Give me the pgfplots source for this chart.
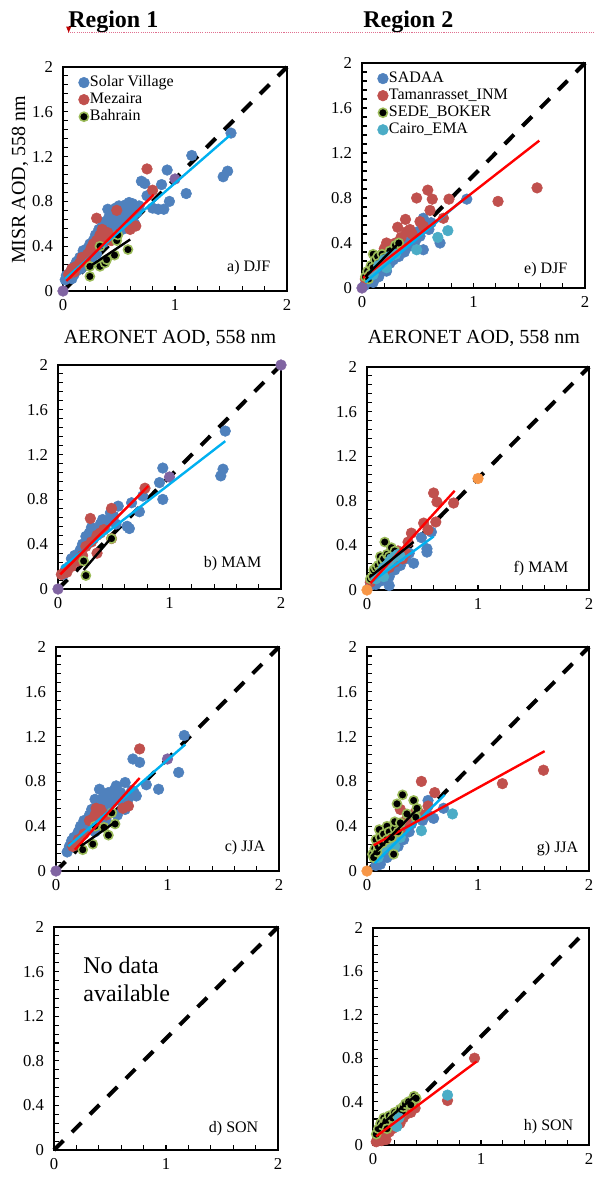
\documentclass[border=0pt]{standalone}
\usepackage{fontspec}
\setmainfont{Liberation Serif}
\usepackage{pgfplots}
\pgfplotsset{compat=1.18}
\definecolor{cBlue}{HTML}{4F81BD}
\definecolor{cRed}{HTML}{C0504D}
\definecolor{cGreen}{HTML}{9BBB59}
\definecolor{cAqua}{HTML}{4BACC6}
\definecolor{cPurple}{HTML}{8064A2}
\definecolor{cOrange}{HTML}{F79646}
\definecolor{lCyan}{HTML}{00B0F0}
\definecolor{lRed}{HTML}{FF0000}
\definecolor{pinkdot}{HTML}{E07090}
\definecolor{tri}{HTML}{C00000}
\tikzset{panlab/.style={anchor=base east, font=\fontsize{12}{12}\selectfont}}
\pgfplotsset{
  panel/.style={
    scale only axis, anchor=north west, clip=false, clip mode=individual,
    xmin=0,xmax=2,ymin=0,ymax=2,
    xtick={0,1,2}, ytick={0,0.4,0.8,1.2,1.6,2},
    minor x tick num=4, minor y tick num=4,
    tick pos=left, tick align=inside,
    major tick length=3.5pt, minor tick length=3.5pt,
    every tick/.style={black, line width=0.8pt},
    axis line style={line width=1.2pt},
    ticklabel style={font=\fontsize{12.5}{12.5}\selectfont},
    /pgf/number format/assume math mode=true,
    xticklabel style={yshift=-3pt},
    yticklabel style={xshift=-4pt},
    legend cell align=left,
    legend image code/.code={\draw plot coordinates {(0.14cm,0cm)};},
    legend style={at={(axis description cs:0,1)}, anchor=north west,
      xshift=11.5pt, yshift=-5.5pt, draw=none, fill=none, inner sep=0pt,
      row sep=0.8pt, font=\fontsize{12}{12}\selectfont,
      nodes={inner sep=0.5pt, text height=8.5pt, text depth=2.5pt}},
  },
  sv/.style={only marks, color=cBlue, mark=*, mark size=4pt, mark options={draw=cBlue, fill=cBlue}},
  mz/.style={only marks, color=cRed, mark=*, mark size=4pt, mark options={draw=cRed, fill=cRed}},
  bh/.style={only marks, color=black, mark=*, mark size=3.4pt, mark options={draw=cGreen, fill=black, line width=1.2pt}},
  ca/.style={only marks, color=cAqua, mark=*, mark size=4pt, mark options={draw=cAqua, fill=cAqua}},
  pu/.style={only marks, color=cPurple, mark=*, mark size=4pt, mark options={draw=cPurple, fill=cPurple}, forget plot},
  og/.style={only marks, color=cOrange, mark=*, mark size=4pt, mark options={draw=cOrange, fill=cOrange}, forget plot},
  oneone/.style={black, line width=3pt, dash pattern=on 10pt off 9pt, forget plot, no marks},
  fit/.style={line width=1.8pt, forget plot, no marks},
}
\begin{document}
\begin{tikzpicture}
\path[use as bounding box] (0,0) rectangle (446.25pt,-883.5pt);
% header
\node[anchor=base west, font=\fontsize{18}{18}\selectfont\bfseries, inner sep=0pt] at (51pt,-20.25pt) {Region 1};
\node[anchor=base west, font=\fontsize{18}{18}\selectfont\bfseries, inner sep=0pt] at (272.25pt,-20.25pt) {Region 2};
\draw[pinkdot, line width=0.6pt, dash pattern=on 0.8pt off 0.8pt] (51pt,-24.2pt) -- (446.25pt,-24.2pt);
\fill[tri] (49.6pt,-20pt) -- (53.4pt,-20pt) -- (51.5pt,-24.5pt) -- cycle;
% axis titles
\node[rotate=90, anchor=base, font=\fontsize{15}{15}\selectfont, inner sep=0pt] at (18.75pt,-135pt) {MISR AOD, 558 nm};
\node[anchor=base, font=\fontsize{15}{15}\selectfont, inner sep=0pt] at (127.5pt,-257.25pt) {AERONET AOD, 558 nm};
\node[anchor=base, font=\fontsize{15}{15}\selectfont, inner sep=0pt] at (355.4pt,-257.25pt) {AERONET AOD, 558 nm};

% ---------- a) DJF Region 1
\begin{axis}[panel, at={(47.25pt,-50.25pt)}, width=168pt, height=168pt]
\addplot[oneone] coordinates {(0,0) (2,2)};
\addplot[sv] coordinates {(0.02,0.10)(0.03,0.14)(0.05,0.12)(0.06,0.16)(0.08,0.11)(0.08,0.2)(0.1,0.15)(0.1,0.22)(0.12,0.18)(0.12,0.26)(0.14,0.22)(0.15,0.3)(0.16,0.2)(0.17,0.27)(0.18,0.36)(0.19,0.24)(0.2,0.32)(0.21,0.28)(0.22,0.38)(0.23,0.3)(0.24,0.42)(0.25,0.35)(0.26,0.29)(0.27,0.45)(0.28,0.38)(0.29,0.5)(0.3,0.33)(0.31,0.44)(0.32,0.55)(0.33,0.4)(0.34,0.48)(0.35,0.58)(0.36,0.43)(0.37,0.52)(0.38,0.62)(0.39,0.47)(0.4,0.73)(0.4,0.56)(0.41,0.66)(0.42,0.5)(0.43,0.6)(0.44,0.7)(0.45,0.54)(0.46,0.64)(0.47,0.74)(0.48,0.58)(0.49,0.68)(0.5,0.76)(0.51,0.62)(0.52,0.7)(0.53,0.55)(0.54,0.74)(0.55,0.66)(0.56,0.77)(0.57,0.6)(0.58,0.7)(0.59,0.79)(0.6,0.64)(0.61,0.74)(0.62,0.78)(0.63,0.68)(0.64,0.6)(0.65,0.75)(0.66,0.7)(0.68,0.76)(0.7,0.98)(0.73,0.96)(0.75,0.85)(0.8,0.74)(0.85,0.73)(0.88,0.95)(0.9,0.73)(0.93,1.08)(0.95,0.8)(1.1,0.87)(1.15,1.21)(1.43,1.02)(1.47,1.07)(1.5,1.41)};
\addlegendentry{Solar Village}
\addplot[mz] coordinates {(0.05,0.15)(0.08,0.2)(0.1,0.17)(0.12,0.22)(0.15,0.25)(0.17,0.3)(0.2,0.28)(0.22,0.33)(0.25,0.38)(0.27,0.42)(0.3,0.65)(0.3,0.45)(0.33,0.5)(0.35,0.55)(0.37,0.48)(0.4,0.52)(0.43,0.45)(0.48,0.72)(0.6,0.55)(0.65,0.58)(0.75,1.09)(0.8,0.9)};
\addlegendentry{Mezaira}
\addplot[bh] coordinates {(0.24,0.13)(0.24,0.22)(0.33,0.4)(0.33,0.22)(0.375,0.25)(0.39,0.28)(0.46,0.32)(0.48,0.45)(0.49,0.5)(0.58,0.37)};
\addlegendentry{Bahrain}
\addplot[pu] coordinates {(0,0) (1,1)};
\addplot[fit, lCyan] coordinates {(0.02,0.11) (1.49,1.39)};
\addplot[fit, lRed] coordinates {(0.03,0.09) (0.81,0.86)};
\addplot[fit, black] coordinates {(0.24,0.22) (0.6,0.46)};
\node[panlab, xshift=-9pt, yshift=15pt] at (rel axis cs:1,0) {a) DJF};
\end{axis}

% ---------- e) DJF Region 2
\begin{axis}[panel, at={(271.5pt,-47.25pt)}, width=167.25pt, height=168.75pt]
\addplot[oneone] coordinates {(0,0) (2,2)};
\addplot[sv] coordinates {(0.02,0.02)(0.05,0.05)(0.08,0.08)(0.1,0.05)(0.12,0.12)(0.15,0.1)(0.18,0.15)(0.2,0.2)(0.22,0.15)(0.25,0.22)(0.28,0.25)(0.3,0.3)(0.33,0.28)(0.35,0.35)(0.38,0.32)(0.4,0.4)(0.42,0.37)(0.45,0.45)(0.48,0.42)(0.5,0.5)(0.52,0.46)(0.55,0.62)(0.55,0.34)(0.6,0.52)(0.62,0.58)(0.7,0.4)(0.94,0.79)};
\addlegendentry{SADAA}
\addplot[mz] coordinates {(0.03,0.08)(0.07,0.12)(0.1,0.18)(0.15,0.25)(0.18,0.3)(0.2,0.35)(0.22,0.4)(0.25,0.33)(0.3,0.4)(0.35,0.45)(0.4,0.5)(0.45,0.48)(0.43,0.52)(0.32,0.54)(0.39,0.61)(0.52,0.59)(0.55,0.55)(0.73,0.62)(0.61,0.69)(0.49,0.8)(0.63,0.79)(0.59,0.87)(0.78,0.79)(1.22,0.77)(1.57,0.89)};
\addlegendentry{Tamanrasset\_INM}
\addplot[bh] coordinates {(0.03,0.1)(0.05,0.15)(0.07,0.12)(0.08,0.2)(0.1,0.3)(0.12,0.25)(0.14,0.28)(0.15,0.22)(0.18,0.3)(0.2,0.27)(0.25,0.33)(0.3,0.38)(0.33,0.4)(0.1,0.18)(0.06,0.08)};
\addlegendentry{SEDE\_BOKER}
\addplot[ca] coordinates {(0.1,0.12)(0.15,0.2)(0.2,0.25)(0.22,0.18)(0.25,0.28)(0.3,0.3)(0.49,0.34)(0.68,0.45)(0.77,0.51)};
\addlegendentry{Cairo\_EMA}
\addplot[pu] coordinates {(0,0)};
\addplot[fit, lCyan] coordinates {(0.03,0.05) (0.9,0.78)};
\addplot[fit, lRed] coordinates {(0.01,0.09) (1.59,1.31)};
\addplot[fit, black] coordinates {(0.03,0.1) (0.33,0.4)};
\node[panlab, xshift=-9.75pt, yshift=11.25pt] at (rel axis cs:1,0) {e) DJF};
\end{axis}

% ---------- b) MAM Region 1
\begin{axis}[panel, at={(43.5pt,-273.75pt)}, width=167.25pt, height=168pt]
\addplot[oneone] coordinates {(0,0) (2,2)};
\addplot[sv] coordinates {(0.05,0.13)(0.07,0.18)(0.1,0.2)(0.12,0.27)(0.15,0.3)(0.17,0.28)(0.2,0.35)(0.22,0.4)(0.25,0.47)(0.28,0.5)(0.3,0.55)(0.32,0.45)(0.35,0.52)(0.38,0.58)(0.4,0.62)(0.42,0.55)(0.45,0.6)(0.47,0.68)(0.5,0.65)(0.52,0.58)(0.54,0.74)(0.62,0.56)(0.64,0.54)(0.66,0.77)(0.73,0.69)(0.76,0.83)(0.91,0.95)(0.94,0.8)(0.94,1.08)(1.46,1.01)(1.48,1.07)(1.5,1.41)};
\addplot[mz] coordinates {(0.03,0.13)(0.08,0.15)(0.12,0.2)(0.18,0.25)(0.22,0.3)(0.25,0.38)(0.29,0.63)(0.3,0.42)(0.35,0.32)(0.35,0.48)(0.38,0.5)(0.41,0.53)(0.48,0.45)(0.48,0.72)(0.78,0.9)};
\addplot[bh] coordinates {(0.23,0.25)(0.25,0.12)(0.48,0.45)};
\addplot[pu] coordinates {(0,0) (1,1) (2,2)};
\addplot[fit, lCyan] coordinates {(0.03,0.19) (1.5,1.32)};
\addplot[fit, lRed] coordinates {(0.02,0.13) (0.81,0.92)};
\addplot[fit, black] coordinates {(0.23,0.17) (0.48,0.46)};
\node[panlab, xshift=-11.25pt, yshift=16.5pt] at (rel axis cs:1,0) {b) MAM};
\end{axis}

% ---------- f) MAM Region 2
\begin{axis}[panel, at={(275.25pt,-275.25pt)}, width=166.5pt, height=167.25pt]
\addplot[oneone] coordinates {(0,0) (2,2)};
\addplot[sv] coordinates {(0.03,0.04)(0.05,0.06)(0.08,0.05)(0.1,0.1)(0.12,0.08)(0.15,0.12)(0.18,0.15)(0.2,0.12)(0.2,0.04)(0.22,0.2)(0.25,0.18)(0.28,0.25)(0.3,0.22)(0.33,0.3)(0.35,0.28)(0.38,0.33)(0.42,0.24)(0.49,0.47)(0.54,0.37)(0.54,0.34)(0.58,0.52)};
\addplot[mz] coordinates {(0.03,0.07)(0.07,0.1)(0.1,0.12)(0.15,0.15)(0.2,0.2)(0.25,0.25)(0.3,0.3)(0.35,0.33)(0.28,0.35)(0.32,0.28)(0.37,0.43)(0.40,0.51)(0.55,0.54)(0.51,0.6)(0.62,0.61)(0.6,0.87)(0.63,0.79)(0.78,0.78)};
\addplot[bh] coordinates {(0.03,0.1)(0.05,0.12)(0.06,0.18)(0.08,0.2)(0.1,0.22)(0.12,0.17)(0.12,0.3)(0.13,0.25)(0.15,0.28)(0.16,0.43)(0.18,0.32)(0.2,0.3)(0.22,0.38)(0.25,0.35)};
\addplot[ca] coordinates {(0.08,0.1)(0.12,0.15)(0.15,0.2)(0.15,0.12)(0.18,0.22)(0.2,0.25)(0.22,0.28)(0.25,0.3)(0.28,0.32)(0.3,0.3)};
\addplot[og] coordinates {(0,0) (1,1)};
\addplot[fit, lCyan] coordinates {(0.04,0.07) (0.6,0.48)};
\addplot[fit, lRed] coordinates {(0.03,0.06) (0.79,0.89)};
\addplot[fit, black] coordinates {(0.03,0.12) (0.42,0.43)};
\node[panlab, xshift=-12pt, yshift=13.5pt] at (rel axis cs:1,0) {f) MAM};
\end{axis}

% ---------- c) JJA Region 1
\begin{axis}[panel, at={(42pt,-485.25pt)}, width=167.25pt, height=168pt]
\addplot[oneone] coordinates {(0,0) (2,2)};
\addplot[sv] coordinates {(0.1,0.17)(0.12,0.22)(0.14,0.27)(0.16,0.3)(0.18,0.25)(0.2,0.35)(0.22,0.4)(0.25,0.45)(0.27,0.38)(0.3,0.5)(0.32,0.55)(0.35,0.48)(0.35,0.35)(0.35,0.64)(0.38,0.6)(0.39,0.73)(0.4,0.52)(0.42,0.65)(0.45,0.58)(0.45,0.45)(0.47,0.7)(0.5,0.62)(0.52,0.72)(0.54,0.76)(0.55,0.66)(0.55,0.5)(0.58,0.7)(0.6,0.6)(0.62,0.55)(0.62,0.79)(0.65,0.65)(0.68,0.72)(0.69,1.0)(0.7,0.7)(0.72,0.67)(0.75,0.97)(0.81,0.77)(0.92,0.73)(1.1,0.88)(1.15,1.21)};
\addplot[mz] coordinates {(0.15,0.22)(0.2,0.28)(0.25,0.33)(0.3,0.45)(0.35,0.5)(0.36,0.56)(0.4,0.55)(0.45,0.5)(0.6,0.56)(0.65,0.58)(0.75,1.09)};
\addplot[bh] coordinates {(0.24,0.19)(0.33,0.24)(0.35,0.4)(0.43,0.39)(0.47,0.32)(0.5,0.52)(0.53,0.42)};
\addplot[pu] coordinates {(0,0) (1,1)};
\addplot[fit, lCyan] coordinates {(0.11,0.22) (1.16,1.13)};
\addplot[fit, lRed] coordinates {(0.17,0.19) (0.75,0.83)};
\addplot[fit, black] coordinates {(0.22,0.22) (0.52,0.43)};
\node[panlab, xshift=-6.75pt, yshift=15pt] at (rel axis cs:1,0) {c) JJA};
\end{axis}

% ---------- g) JJA Region 2
\begin{axis}[panel, at={(275.25pt,-485.25pt)}, width=166.5pt, height=168pt]
\addplot[oneone] coordinates {(0,0) (2,2)};
\addplot[sv] coordinates {(0.08,0.05)(0.1,0.1)(0.12,0.06)(0.15,0.15)(0.18,0.12)(0.2,0.2)(0.22,0.15)(0.25,0.25)(0.28,0.22)(0.3,0.3)(0.33,0.28)(0.35,0.38)(0.38,0.35)(0.4,0.42)(0.45,0.5)(0.5,0.45)(0.55,0.5)(0.55,0.63)(0.6,0.47)(0.69,0.56)};
\addplot[mz] coordinates {(0.1,0.15)(0.15,0.2)(0.2,0.25)(0.25,0.3)(0.3,0.35)(0.3,0.55)(0.35,0.45)(0.4,0.5)(0.45,0.55)(0.5,0.5)(0.55,0.58)(0.49,0.8)(0.61,0.7)(1.22,0.78)(1.59,0.9)};
\addplot[ca] coordinates {(0.1,0.12)(0.15,0.2)(0.21,0.25)(0.25,0.22)(0.3,0.3)(0.49,0.36)(0.77,0.51)};
\addplot[bh] coordinates {(0.05,0.15)(0.06,0.12)(0.07,0.2)(0.08,0.28)(0.09,0.17)(0.1,0.22)(0.11,0.37)(0.12,0.3)(0.14,0.25)(0.15,0.33)(0.18,0.28)(0.18,0.4)(0.2,0.35)(0.22,0.3)(0.24,0.15)(0.25,0.38)(0.25,0.44)(0.27,0.6)(0.28,0.35)(0.3,0.43)(0.32,0.68)(0.36,0.51)(0.42,0.63)(0.44,0.48)(0.45,0.56)};
\addplot[og] coordinates {(0,0)};
\addplot[fit, lCyan] coordinates {(0.07,0.07) (0.7,0.68)};
\addplot[fit, lRed] coordinates {(0.06,0.23) (1.6,1.07)};
\addplot[fit, black] coordinates {(0.04,0.13) (0.45,0.55)};
\node[panlab, xshift=-4.5pt, yshift=14.25pt] at (rel axis cs:1,0) {g) JJA};
\end{axis}

% ---------- d) SON Region 1
\begin{axis}[panel, at={(40.5pt,-695.25pt)}, width=168pt, height=167.25pt]
\addplot[oneone] coordinates {(0,0) (2,2)};
\node[anchor=base west, font=\fontsize{18}{18}\selectfont, inner sep=0pt] at (rel axis cs:0.13,0.79) {No data};
\node[anchor=base west, font=\fontsize{18}{18}\selectfont, inner sep=0pt] at (rel axis cs:0.13,0.664) {available};
\node[panlab, xshift=-11.25pt, yshift=13.5pt] at (rel axis cs:1,0) {d) SON};
\end{axis}

% ---------- h) SON Region 2
\begin{axis}[panel, at={(279.75pt,-696pt)}, width=162pt, height=162.75pt]
\addplot[oneone] coordinates {(0,0) (1.93,1.93)};
\addplot[mz] coordinates {(0.03,0.03)(0.05,0.05)(0.08,0.04)(0.1,0.07)(0.12,0.05)(0.15,0.12)(0.18,0.15)(0.2,0.18)(0.22,0.22)(0.25,0.2)(0.28,0.25)(0.3,0.28)(0.35,0.3)(0.38,0.35)(0.39,0.34)(0.69,0.41)(0.94,0.8)};
\addplot[bh] coordinates {(0.03,0.1)(0.05,0.15)(0.07,0.2)(0.09,0.18)(0.1,0.25)(0.12,0.22)(0.13,0.15)(0.15,0.27)(0.18,0.25)(0.2,0.3)(0.22,0.28)(0.25,0.33)(0.27,0.3)(0.28,0.35)(0.3,0.38)(0.33,0.4)(0.35,0.37)(0.38,0.45)(0.4,0.43)};
\addplot[ca] coordinates {(0.22,0.17)(0.24,0.25)(0.69,0.46)};
\addplot[fit, lRed] coordinates {(0.03,0.08) (0.96,0.77)};
\addplot[fit, black] coordinates {(0.02,0.14) (0.4,0.46)};
\node[panlab, xshift=-8.25pt, yshift=11.25pt] at (rel axis cs:1,0) {h) SON};
\end{axis}
\end{tikzpicture}
\end{document}
